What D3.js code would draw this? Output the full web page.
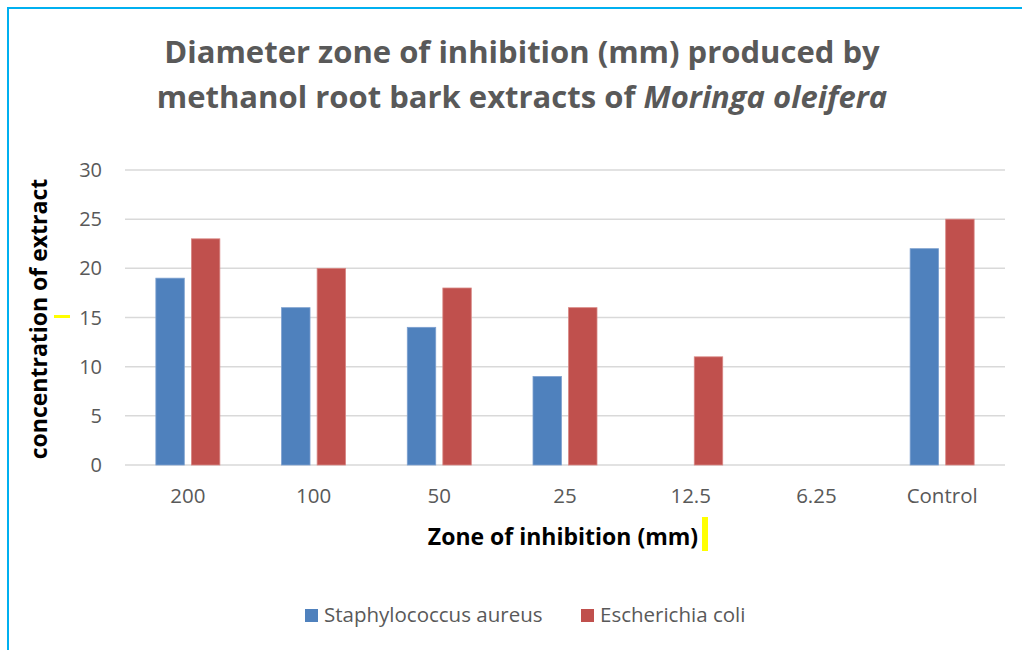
<!DOCTYPE html>
<html>
<head>
<meta charset="utf-8">
<script src="https://cdn.jsdelivr.net/npm/d3@7"></script>
<style>
  html, body { margin: 0; padding: 0; background: #fff; }
  #chart { width: 1022px; height: 650px; }
  text { font-family: "Open Sans", "Noto Sans", sans-serif; }
</style>
</head>
<body>
<div id="chart"></div>
<script>
const categories = ["200", "100", "50", "25", "12.5", "6.25", "Control"];
const staphValues = [19, 16, 14, 9, 0, 0, 22];
const ecoliValues = [23, 20, 18, 16, 11, 0, 25];
const seriesNames = ["Staphylococcus aureus", "Escherichia coli"];
const seriesColors = ["#4f81bd", "#c0504d"];
const yTicks = [0, 5, 10, 15, 20, 25, 30];

const width = 1022, height = 650;
const margin = { left: 125, right: 17, top: 170, bottom: 185 };
const innerW = width - margin.left - margin.right;
const innerH = height - margin.top - margin.bottom;

const svg = d3.select("#chart").append("svg")
  .attr("width", width).attr("height", height);

// frame (only top and left edges visible in the crop)
svg.append("line").attr("x1", 8).attr("x2", width).attr("y1", 8).attr("y2", 8)
  .attr("stroke", "#00b0f0").attr("stroke-width", 2);
svg.append("line").attr("x1", 8).attr("x2", 8).attr("y1", 7).attr("y2", height)
  .attr("stroke", "#00b0f0").attr("stroke-width", 2);

// title
const title = svg.append("text").attr("text-anchor", "middle")
  .attr("fill", "#595959").attr("font-weight", "bold").attr("font-size", 31);
title.append("tspan").attr("x", 522).attr("y", 63)
  .text("Diameter zone of inhibition (mm) produced by");
const t2 = title.append("tspan").attr("x", 522).attr("y", 108);
t2.append("tspan").text("methanol root bark extracts of ");
t2.append("tspan").attr("font-style", "italic").text("Moringa oleifera");

const g = svg.append("g").attr("transform", `translate(${margin.left},${margin.top})`);

const x0 = d3.scaleBand().domain(categories).range([0, innerW]);
const x1 = d3.scaleBand().domain(seriesNames).range([x0.bandwidth() / 2 - 32, x0.bandwidth() / 2 + 32]).paddingInner(0.2);
const y = d3.scaleLinear().domain([0, 30]).range([innerH, 0]);

// gridlines
g.append("g").selectAll("line").data(yTicks).join("line")
  .attr("x1", 0).attr("x2", innerW)
  .attr("y1", d => y(d)).attr("y2", d => y(d))
  .attr("stroke", "#d9d9d9").attr("stroke-width", 1.5);

// y tick labels
g.append("g").selectAll("text").data(yTicks).join("text")
  .attr("x", -23).attr("y", d => y(d)).attr("dy", "0.35em")
  .attr("text-anchor", "end").attr("fill", "#595959").attr("font-size", 20)
  .text(d => d);

// x tick labels
g.append("g").selectAll("text").data(categories).join("text")
  .attr("x", d => x0(d) + x0.bandwidth() / 2).attr("y", innerH + 38)
  .attr("text-anchor", "middle").attr("fill", "#595959").attr("font-size", 20.5)
  .text(d => d);

// bars
const rows = categories.map((c, i) => ({ cat: c, vals: [staphValues[i], ecoliValues[i]] }));
const grp = g.append("g").selectAll("g").data(rows).join("g")
  .attr("transform", d => `translate(${x0(d.cat)},0)`);
grp.selectAll("rect").data(d => d.vals.map((v, k) => ({ v, k })).filter(e => e.v > 0))
  .join("rect")
  .attr("x", d => x1(seriesNames[d.k]))
  .attr("width", x1.bandwidth())
  .attr("y", d => y(d.v))
  .attr("height", d => innerH - y(d.v))
  .attr("fill", d => seriesColors[d.k])
  .attr("stroke", (d) => d.k === 0 ? "#7da0cf" : "#d88784")
  .attr("stroke-width", 0.8);

// axis titles
svg.append("text").attr("transform", "translate(47,319) rotate(-90)")
  .attr("text-anchor", "middle").attr("font-weight", "bold").attr("font-size", 23)
  .attr("fill", "#000").text("concentration of extract");
svg.append("rect").attr("x", 54).attr("y", 315).attr("width", 16).attr("height", 3).attr("fill", "#ffff00");

svg.append("text").attr("x", 563).attr("y", 545)
  .attr("text-anchor", "middle").attr("font-weight", "bold").attr("font-size", 23)
  .attr("fill", "#000").text("Zone of inhibition (mm)");
svg.append("rect").attr("x", 702).attr("y", 517).attr("width", 6).attr("height", 34).attr("fill", "#ffff00");

// legend
const legendX = [305, 581];
const leg = svg.append("g").selectAll("g").data(seriesNames).join("g")
  .attr("transform", (d, i) => `translate(${legendX[i]},609)`);
leg.append("rect").attr("width", 13).attr("height", 13).attr("fill", (d, i) => seriesColors[i]);
leg.append("text").attr("x", 19).attr("y", 12.5).attr("font-size", 20.5).attr("fill", "#595959").text(d => d);
</script>
</body>
</html>
